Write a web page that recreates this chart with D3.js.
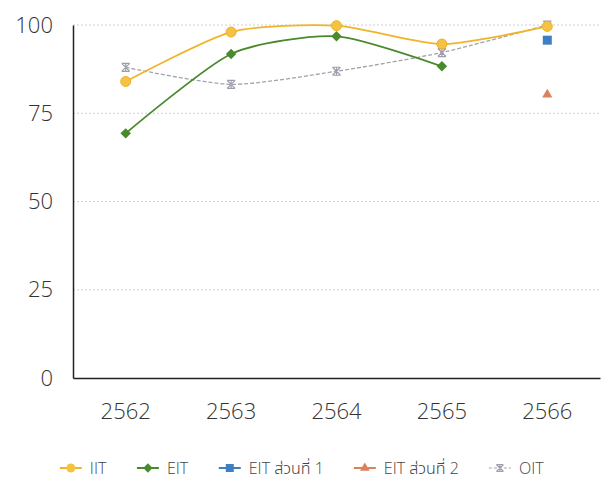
<!DOCTYPE html>
<html>
<head>
<meta charset="utf-8">
<script src="https://cdn.jsdelivr.net/npm/d3@7"></script>
<style>
  body { margin: 0; background: #fff; }
  svg { font-family: "Open Sans", "Noto Sans", sans-serif; font-weight: 300; }
  .legend text { font-family: "Open Sans", "Noto Sans Thai", "Noto Sans", "Loma", "Garuda", sans-serif; }
</style>
</head>
<body>
<svg id="chart" width="604" height="483"></svg>
<script>
// data
const years = ["2562", "2563", "2564", "2565", "2566"]
const iit = [84, 98, 99.8, 94.6, 99.6]
const eit = [69.3, 91.8, 96.8, 88.3, null]
const eitPart1 = [null, null, null, null, 95.7]
const eitPart2 = [null, null, null, null, 80.3]
const oit = [88, 83.2, 86.9, 92.2, 100]
const yTicks = [0, 25, 50, 75, 100]

const seriesNames = ["IIT", "EIT", "EIT ส่วนที่ 1", "EIT ส่วนที่ 2", "OIT"]

const svg = d3.select("#chart")

let plotLeft = 73
let plotRight = 600
let plotTop = 25
let plotBottom = 378

let x = d3.scaleBand().domain(years).range([plotLeft, plotRight])
let y = d3.scaleLinear().domain([0, 100]).range([plotBottom, plotTop])

// grid lines (dotted)
svg.append("g")
    .selectAll("line")
    .data(yTicks.filter(d => d > 0))
    .join("line")
    .attr("x1", plotLeft)
    .attr("x2", plotRight)
    .attr("y1", d => y(d))
    .attr("y2", d => y(d))
    .attr("stroke", "#cfcfcf")
    .attr("stroke-width", 1)
    .attr("stroke-dasharray", "2,2")

// y axis
let yAxis = svg.append("g")
    .attr("transform", `translate(${plotLeft},0)`)
    .call(d3.axisLeft(y).tickValues(yTicks).tickSize(0).tickPadding(20))
yAxis.select(".domain").attr("stroke", "#222").attr("stroke-width", 1.5)
yAxis.selectAll("text").attr("font-size", 22).attr("fill", "#333")
yAxis.attr("font-family", null)

// x axis
let xAxis = svg.append("g")
    .attr("transform", `translate(0,${plotBottom})`)
    .call(d3.axisBottom(x).tickSize(0).tickPadding(25))
xAxis.select(".domain").attr("stroke", "#222").attr("stroke-width", 1.5)
xAxis.selectAll("text").attr("font-size", 22).attr("fill", "#333")
xAxis.attr("font-family", null)

let cx = (d, i) => x(years[i]) + x.bandwidth() / 2

// OIT marker: asterisk-like glyph
function oitMarker(g, px, py, s) {
    g.append("path")
        .attr("d", `M${px - s},${py - s}L${px + s},${py + s}M${px + s},${py - s}L${px - s},${py + s}` +
            `M${px},${py - s}L${px},${py + s}M${px - s},${py - s}L${px + s},${py - s}M${px - s},${py + s}L${px + s},${py + s}`)
        .attr("stroke", "#9d9dab")
        .attr("stroke-width", 1.2)
        .attr("fill", "none")
}

let lineGen = d3.line()
    .defined(d => d != null)
    .x(cx)
    .y(d => y(d))
    .curve(d3.curveCardinal.tension(0.3))

// OIT line (dashed gray)
svg.append("path")
    .attr("d", lineGen(oit))
    .attr("fill", "none")
    .attr("stroke", "#a3a3b0")
    .attr("stroke-width", 1.3)
    .attr("stroke-dasharray", "4,2")

// EIT line
svg.append("path")
    .attr("d", lineGen(eit))
    .attr("fill", "none")
    .attr("stroke", "#4a8a2c")
    .attr("stroke-width", 1.8)

// IIT line
svg.append("path")
    .attr("d", lineGen(iit))
    .attr("fill", "none")
    .attr("stroke", "#f0b429")
    .attr("stroke-width", 1.8)

// markers
let oitG = svg.append("g")
oit.forEach((d, i) => { if (d != null) oitMarker(oitG, cx(d, i), y(d), 4) })

svg.append("g").selectAll("path")
    .data(eit.map((d, i) => [d, i]).filter(p => p[0] != null))
    .join("path")
    .attr("d", d3.symbol(d3.symbolDiamond2, 70)())
    .attr("transform", p => `translate(${cx(p[0], p[1])},${y(p[0])})`)
    .attr("fill", "#4a8a2c")

svg.append("g").selectAll("circle")
    .data(iit.map((d, i) => [d, i]))
    .join("circle")
    .attr("cx", p => cx(p[0], p[1]))
    .attr("cy", p => y(p[0]))
    .attr("r", 5)
    .attr("fill", "#f5c342")
    .attr("stroke", "#eeb02a")
    .attr("stroke-width", 1)

svg.append("g").selectAll("rect")
    .data(eitPart1.map((d, i) => [d, i]).filter(p => p[0] != null))
    .join("rect")
    .attr("x", p => cx(p[0], p[1]) - 4.5)
    .attr("y", p => y(p[0]) - 4.5)
    .attr("width", 9)
    .attr("height", 9)
    .attr("fill", "#3d7fc1")

svg.append("g").selectAll("path")
    .data(eitPart2.map((d, i) => [d, i]).filter(p => p[0] != null))
    .join("path")
    .attr("d", d3.symbol(d3.symbolTriangle, 45)())
    .attr("transform", p => `translate(${cx(p[0], p[1])},${y(p[0])})`)
    .attr("fill", "#d9835c")

// legend
let legend = svg.append("g").attr("class", "legend")
let legendY = 468
let items = legend.selectAll("g")
    .data(seriesNames)
    .join("g")

items.append("text")
    .attr("x", 30)
    .attr("y", legendY)
    .attr("dy", "0.35em")
    .attr("font-size", 16)
    .attr("fill", "#444")
    .text(d => d)

let colors = ["#f0b429", "#4a8a2c", "#3d7fc1", "#d9835c", "#a3a3b0"]
items.append("line")
    .attr("x1", 0)
    .attr("x2", 22)
    .attr("y1", legendY)
    .attr("y2", legendY)
    .attr("stroke", (d, i) => colors[i])
    .attr("stroke-width", (d, i) => i == 4 ? 1.2 : 2)
    .attr("stroke-dasharray", (d, i) => i == 4 ? "3,2" : null)

items.each(function (d, i) {
    let g = d3.select(this)
    if (i == 0) g.append("circle").attr("cx", 11).attr("cy", legendY).attr("r", 4.5).attr("fill", "#f5c342")
    if (i == 1) g.append("path").attr("d", d3.symbol(d3.symbolDiamond2, 55)()).attr("transform", `translate(11,${legendY})`).attr("fill", "#4a8a2c")
    if (i == 2) g.append("rect").attr("x", 7).attr("y", legendY - 4).attr("width", 8).attr("height", 8).attr("fill", "#3d7fc1")
    if (i == 3) g.append("path").attr("d", d3.symbol(d3.symbolTriangle, 40)()).attr("transform", `translate(11,${legendY})`).attr("fill", "#d9835c")
    if (i == 4) oitMarker(g, 11, legendY, 3.5)
})

// lay out legend items centred
let gap = 30
let widths = []
items.each(function () { widths.push(this.getBBox().width) })
let total = d3.sum(widths) + gap * (widths.length - 1)
let pos = (604 - total) / 2
items.attr("transform", (d, i) => {
    let t = `translate(${pos},0)`
    pos += widths[i] + gap
    return t
})
</script>
</body>
</html>
